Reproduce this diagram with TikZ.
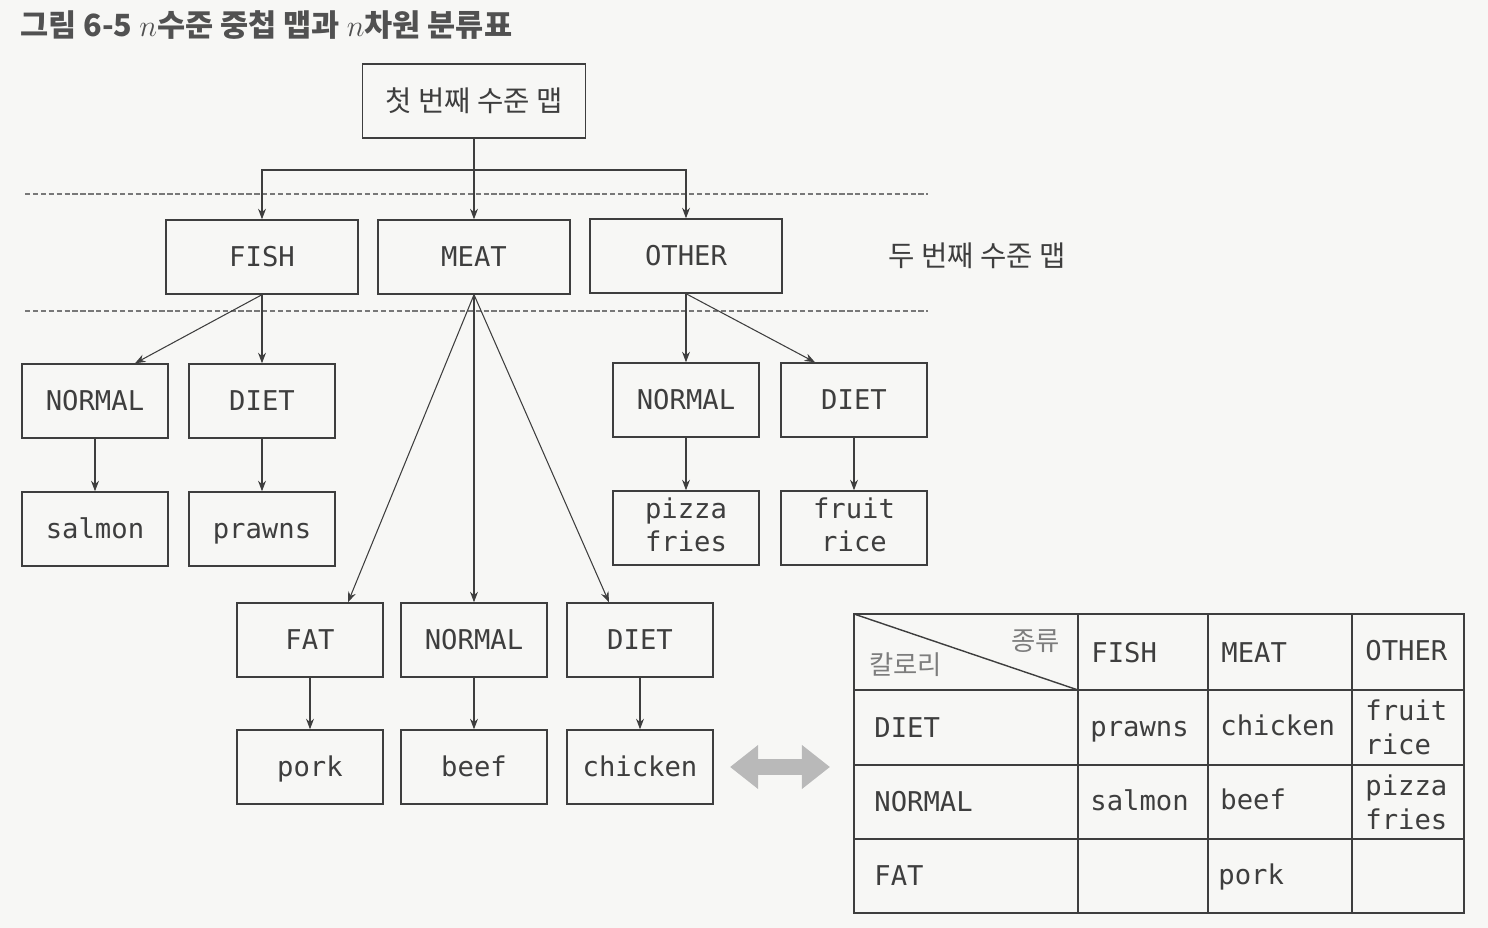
\documentclass[tikz,border=0pt]{standalone}
\usepackage{fontspec}
\setmonofont{DejaVu Sans Mono}
\newfontfamily\krfont{Noto Sans CJK KR}
\usetikzlibrary{arrows,arrows.meta,calc}
\definecolor{ink}{RGB}{62,62,62}
\definecolor{paper}{RGB}{247,247,245}
\definecolor{dimtext}{RGB}{125,125,125}
% same height and depth for every one-line label
\newcommand\labelstrut{\rule[-0.22em]{0pt}{1.17em}}
\tikzset{
	box/.style={
			draw=ink, line width=0.8pt, text=ink,
			minimum width=2.92cm, minimum height=1.48cm, inner sep=2pt,
			font=\ttfamily\fontsize{15.5}{18.8}\selectfont, align=center,
			execute at begin node=\labelstrut
		},
	wide/.style={box, minimum width=3.84cm},
	twoline/.style={execute at begin node={}},
	link/.style={draw=ink, line width=0.6pt, -{Stealth[length=6pt,width=4.5pt]}},
	level/.style={draw=ink!70, line width=0.6pt, dash pattern=on 3pt off 1.5pt},
	cell/.style={anchor=west, inner sep=0pt, text=ink, align=left,
			font=\ttfamily\fontsize{15.5}{19.2}\selectfont,
			execute at begin node=\labelstrut},
	krtext/.style={text=ink, font=\krfont\fontsize{16.3}{19}\selectfont}
}

\begin{document}
\begin{tikzpicture}[x=0.02cm, y=-0.02cm]
        \fill[paper] (0,0) rectangle (1488,928);
        \useasboundingbox (0,0) rectangle (1488,928);

        % Title
        \node[anchor=west, text=ink!90, font=\krfont\bfseries\fontsize{17.4}{20}\selectfont] (title) at (14,25) {그림 6-5 $n$수준 중첩 맵과 $n$차원 분류표};

        % First level map
        \node[box, krtext, twoline, minimum width=4.46cm] (top) at (474,101) {첫 번째 수준 맵};

        % Second level map
        \node[wide] (fish) at (262,257) {FISH};
        \node[wide] (meat) at (474,257) {MEAT};
        \node[wide] (other) at (686,256) {OTHER};
        \node[krtext] (second) at (977,256) {두 번째 수준 맵};

        % Level borders
        \draw[level] (25,194) -- (928,194);
        \draw[level] (25,311) -- (928,311);

        \coordinate (split) at (474,170);
        \draw[ink, line width=0.6pt] (top.south) -- (split);
        \draw[link] (split) -| (fish.north);
        \draw[link] (split) -- (meat.north);
        \draw[link] (split) -| (other.north);

        % FISH branch
        \node[box] (fnormal) at (95,401) {NORMAL};
        \node[box] (fdiet) at (262,401) {DIET};
        \node[box] (salmon) at (95,529) {salmon};
        \node[box] (prawns) at (262,529) {prawns};
        \draw[link] (fish.south) -- ([xshift=0.8cm]fnormal.north);
        \draw[link] (fish.south) -- (fdiet.north);

        % OTHER branch
        \node[box] (onormal) at (686,400) {NORMAL};
        \node[box] (odiet) at (854,400) {DIET};
        \node[box, twoline] (pizza) at (686,528) {pizza\\fries};
        \node[box, twoline] (fruit) at (854,528) {fruit\\rice};
        \draw[link] (other.south) -- (onormal.north);
        \draw[link] (other.south) -- ([xshift=-0.78cm]odiet.north);

        % MEAT branch
        \node[box] (fat) at (310,640) {FAT};
        \node[box] (mnormal) at (474,640) {NORMAL};
        \node[box] (mdiet) at (640,640) {DIET};
        \node[box] (pork) at (310,767) {pork};
        \node[box] (beef) at (474,767) {beef};
        \node[box] (chicken) at (640,767) {chicken};
        \draw[link] (meat.south) -- ([xshift=0.76cm]fat.north);
        \draw[link] (meat.south) -- (mnormal.north);
        \draw[link] (meat.south) -- ([xshift=-0.62cm]mdiet.north);

        % Leaves
        \foreach \a/\b in {fnormal/salmon, fdiet/prawns, onormal/pizza, odiet/fruit, fat/pork, mnormal/beef, mdiet/chicken} {
            \draw[link] (\a.south) -- (\b.north);
        }

        % Map <-> table
        \coordinate (mapend) at (730,767);
        \coordinate (tabend) at (830,767);
        \draw[line width=9pt, gray!55, {Triangle[length=16pt,width=24pt]}-{Triangle[length=16pt,width=24pt]}] (mapend) -- (tabend);

        % Table
        \draw[ink, line width=0.8pt] (854,614) rectangle (1464,913);
        \foreach \x in {1078, 1208, 1352} {
            \draw[ink, line width=0.8pt] (\x,614) -- (\x,913);
        }
        \foreach \y in {690, 765, 839} {
            \draw[ink, line width=0.8pt] (854,\y) -- (1464,\y);
        }
        \draw[ink, line width=0.8pt] (854,614) -- (1078,690);

        \node[cell, twoline, text=dimtext, font=\krfont\fontsize{15}{18}\selectfont] (calorie) at (869,665) {칼로리};
        \node[cell, twoline, text=dimtext, font=\krfont\fontsize{15}{18}\selectfont] (kind) at (1011,641) {종류};
        \node[cell] (hfish) at (1091,653) {FISH};
        \node[cell] (hmeat) at (1221,653) {MEAT};
        \node[cell] (hother) at (1365,651) {OTHER};

        \node[cell] (rdiet) at (874,728) {DIET};
        \node[cell] (rnormal) at (874,802) {NORMAL};
        \node[cell] (rfat) at (874,876) {FAT};

        \node[cell] (cprawns) at (1090,727) {prawns};
        \node[cell] (cchicken) at (1220,726) {chicken};
        \node[cell, twoline] (cfruit) at (1365,730) {fruit\\rice};
        \node[cell] (csalmon) at (1090,801) {salmon};
        \node[cell] (cbeef) at (1220,800) {beef};
        \node[cell, twoline] (cpizza) at (1365,805) {pizza\\fries};
        \node[cell] (cpork) at (1218,875) {pork};

    \end{tikzpicture}
\end{document}
